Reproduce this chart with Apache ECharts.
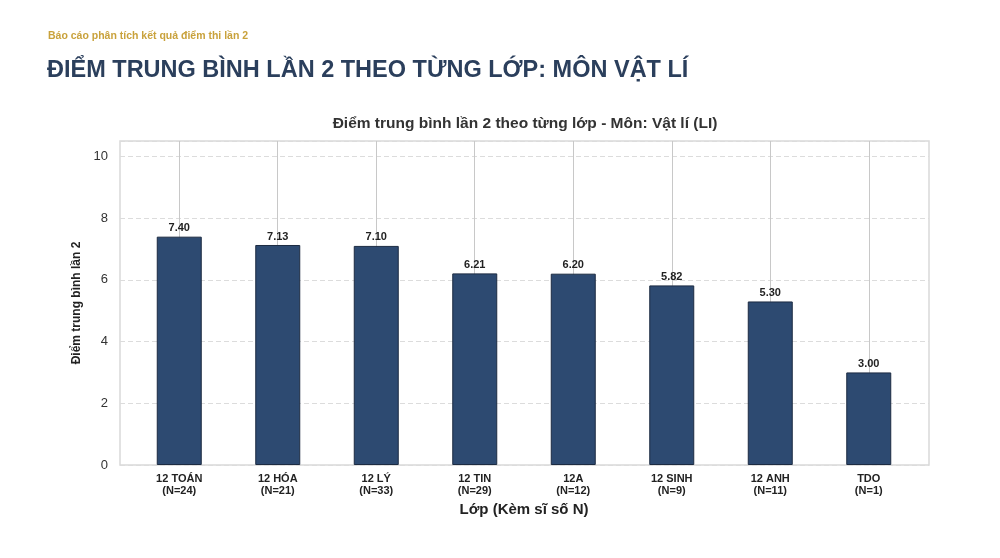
<!DOCTYPE html>
<html lang="vi">
<head>
<meta charset="UTF-8">
<title>Điểm trung bình lần 2 theo từng lớp</title>
<script src="https://cdn.jsdelivr.net/npm/echarts@6/dist/echarts.min.js"></script>
<style>
  html, body { margin: 0; padding: 0; background: #fff; }
  #main { width: 1000px; height: 558px; }
</style>
</head>
<body>
<div id="main"></div>
<script>
// du lieu
var classes = ['12 TOÁN', '12 HÓA', '12 LÝ', '12 TIN', '12A', '12 SINH', '12 ANH', 'TDO'];
var counts = [24, 21, 33, 29, 12, 9, 11, 1];
var scores = [7.40, 7.13, 7.10, 6.21, 6.20, 5.82, 5.30, 3.00];
var yTicks = [0, 2, 4, 6, 8, 10];

var labels = classes.map(function (c, i) { return c + '\n(N=' + counts[i] + ')'; });
var font = 'Liberation Sans, Arial, sans-serif';

var chart = echarts.init(document.getElementById('main'));

var option = {
  backgroundColor: '#fff',
  animation: false,
  title: [
    { text: 'Báo cáo phân tích kết quả điểm thi lần 2', left: 48, top: 31, padding: 0,
      textStyle: { fontFamily: font, fontSize: 10.5, fontWeight: 'bold', color: '#c9a23c' } },
    { text: 'ĐIỂM TRUNG BÌNH LẦN 2 THEO TỪNG LỚP: MÔN VẬT LÍ', left: 47, top: 59, padding: 0,
      textStyle: { fontFamily: font, fontSize: 23.5, fontWeight: 'bold', color: '#2b3f5c' } },
    { text: 'Điểm trung bình lần 2 theo từng lớp - Môn: Vật lí (LI)', left: 525, top: 116, textAlign: 'center', padding: 0,
      textStyle: { fontFamily: font, fontSize: 15.5, fontWeight: 'bold', color: '#333' } }
  ],
  grid: [
    { left: 120, right: 71, top: 141, bottom: 93, show: true, borderColor: '#d9d9d9', borderWidth: 1.5 },
    { left: 130, right: 82, top: 141, bottom: 93 },
    // luoi doc qua tam moi cot
    { left: 179, right: 131, top: 141, bottom: 93 }
  ],
  xAxis: [
    { gridIndex: 0, type: 'category', data: labels, show: false },
    {
      gridIndex: 1, type: 'category', data: labels,
      name: 'Lớp (Kèm sĩ số N)', nameLocation: 'middle', nameGap: 35,
      nameTextStyle: { fontFamily: font, fontSize: 15, fontWeight: 'bold', color: '#222' },
      axisLine: { show: false }, axisTick: { show: false },
      axisLabel: { fontFamily: font, fontSize: 11, fontWeight: 'bold', color: '#222', lineHeight: 12, margin: 8 },
      splitLine: { show: false }
    },
    {
      gridIndex: 2, type: 'category', data: labels, boundaryGap: false,
      axisLine: { show: false }, axisTick: { show: false }, axisLabel: { show: false },
      splitLine: { show: true, lineStyle: { color: '#c8c8c8', width: 1 } }
    }
  ],
  yAxis: [
    {
      gridIndex: 0, type: 'value', min: 0, max: 10.5, interval: 2,
      name: 'Điểm trung bình lần 2', nameLocation: 'middle', nameGap: 34,
      nameTextStyle: { fontFamily: font, fontSize: 12, fontWeight: 'bold', color: '#222' },
      axisLine: { show: false }, axisTick: { show: false },
      axisLabel: {
        fontFamily: font, fontSize: 13, color: '#333', margin: 12,
        formatter: function (v) { return yTicks.indexOf(v) >= 0 ? v : ''; }
      },
      splitLine: { show: true, lineStyle: { color: '#dcdcdc', type: [5, 3], width: 1 } }
    },
    { gridIndex: 1, type: 'value', min: 0, max: 10.5, show: false, splitLine: { show: false } },
    { gridIndex: 2, type: 'value', min: 0, max: 10.5, show: false, splitLine: { show: false } }
  ],
  series: [
    {
      type: 'bar', xAxisIndex: 1, yAxisIndex: 1,
      data: scores, barWidth: 45,
      itemStyle: { color: '#2d4a71', borderColor: '#1c2b42', borderWidth: 1 },
      label: {
        show: true, position: 'top', distance: 3,
        fontFamily: font, fontSize: 11, fontWeight: 'bold', color: '#222',
        formatter: function (p) { return p.value.toFixed(2); }
      }
    }
  ]
};

chart.setOption(option);
</script>
</body>
</html>
